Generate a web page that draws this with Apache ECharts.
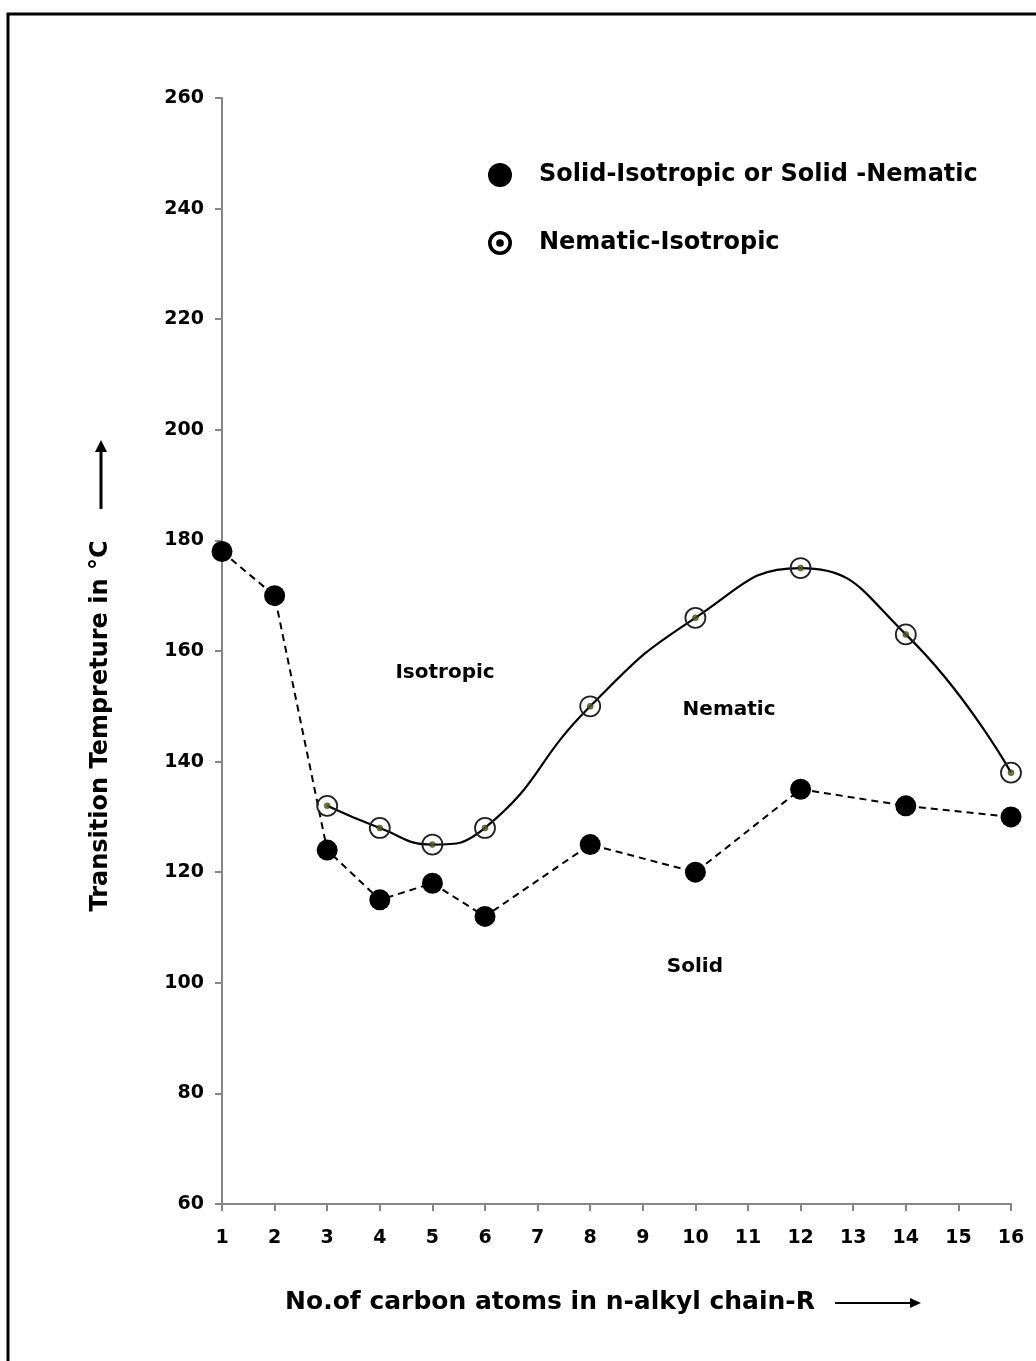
<!DOCTYPE html>
<html>
<head>
<meta charset="utf-8">
<script src="https://cdn.jsdelivr.net/npm/echarts@6/dist/echarts.min.js"></script>
<style>html,body{margin:0;padding:0;background:#fff}#c{width:1036px;height:1361px}</style>
</head>
<body>
<div id="c"></div>
<script>
var xTicks = [1,2,3,4,5,6,7,8,9,10,11,12,13,14,15,16];
var yTicks = [60,80,100,120,140,160,180,200,220,240,260];
var solidX = [1,2,3,4,5,6,8,10,12,14,16];
var solidY = [178,170,124,115,118,112,125,120,135,132,130];
var nemX = [3,4,5,6,8,10,12,14,16];
var nemY = [132,128,125,128,150,166,175,163,138];
var regionNames = ['Isotropic','Nematic','Solid'];
var regionX = [5.24,10.64,9.99];
var regionY = [156,149.3,102.9];

var solidData = solidX.map(function(x,i){return [x,solidY[i]];});
var nemData = nemX.map(function(x,i){return [x,nemY[i]];});

var FONT = '"DejaVu Sans", sans-serif';
var ringIcon = 'path://M0,-10A10,10 0 1,1 0,10A10,10 0 1,1 0,-10ZM0,-7A7,7 0 1,0 0,7A7,7 0 1,0 0,-7ZM0,-3.2A3.2,3.2 0 1,1 0,3.2A3.2,3.2 0 1,1 0,-3.2Z';

var chart = echarts.init(document.getElementById('c'));
chart.setOption({
  animation:false,
  backgroundColor:'#fff',
  grid:{left:222,right:25,top:98,bottom:157,containLabel:false},
  legend:{
    orient:'vertical',left:483,top:158,itemGap:44,itemWidth:24,itemHeight:24,
    textStyle:{fontFamily:FONT,fontWeight:'bold',fontSize:24,color:'#000',padding:[0,0,0,22]},
    data:[
      {name:'Solid-Isotropic or Solid -Nematic',icon:'circle',itemStyle:{color:'#000',borderWidth:0}},
      {name:'Nematic-Isotropic',icon:ringIcon,itemStyle:{color:'#000',borderWidth:0}}
    ]
  },
  xAxis:{
    type:'value',min:1,max:16,interval:1,
    axisLine:{lineStyle:{color:'#868686',width:2}},
    axisTick:{show:true,length:7,lineStyle:{color:'#868686',width:2}},
    axisLabel:{fontFamily:FONT,fontWeight:'bold',fontSize:19,color:'#000',margin:25},
    splitLine:{show:false}
  },
  yAxis:{
    type:'value',min:60,max:260,interval:20,
    axisLine:{show:true,lineStyle:{color:'#868686',width:2}},
    axisTick:{show:true,length:7,lineStyle:{color:'#868686',width:2}},
    axisLabel:{fontFamily:FONT,fontWeight:'bold',fontSize:19,color:'#000',margin:18},
    splitLine:{show:false}
  },
  series:[
    {
      name:'Solid-Isotropic or Solid -Nematic',type:'line',data:solidData,
      symbol:'circle',symbolSize:21,
      itemStyle:{color:'#000'},
      lineStyle:{color:'#000',width:2,type:[7,5]},
      z:3
    },
    {
      name:'Nematic-Isotropic',type:'line',data:nemData,smooth:0.5,
      symbol:'circle',symbolSize:20,
      itemStyle:{color:'rgba(255,255,255,0)',borderColor:'#222',borderWidth:1.8},
      lineStyle:{color:'#000',width:2.2},
      z:4
    },
    {
      name:'dots',type:'scatter',data:nemData,symbolSize:6,
      itemStyle:{color:'#4d5c12',borderColor:'#1a2000',borderWidth:0.5},
      z:5,silent:true
    }
  ],
  graphic:[
    {type:'rect',shape:{x:8,y:14,width:1200,height:1500},style:{fill:'none',stroke:'#000',lineWidth:3},z:-1},
    {type:'text',x:101,y:726,rotation:Math.PI/2,style:{text:'Transition Tempreture in °C',font:'bold 24px "DejaVu Sans", sans-serif',fill:'#000',textAlign:'center',textVerticalAlign:'middle'}},
    {type:'line',shape:{x1:101,y1:509,x2:101,y2:452},style:{stroke:'#000',lineWidth:3}},
    {type:'polygon',shape:{points:[[95,452],[107,452],[101,440]]},style:{fill:'#000'}},
    {type:'text',x:550,y:1302,style:{text:'No.of carbon atoms in n-alkyl chain-R',font:'bold 25px "DejaVu Sans", sans-serif',fill:'#000',textAlign:'center',textVerticalAlign:'middle'}},
    {type:'line',shape:{x1:835,y1:1303,x2:912,y2:1303},style:{stroke:'#000',lineWidth:2}},
    {type:'polygon',shape:{points:[[910,1298],[910,1308],[921,1303]]},style:{fill:'#000'}}
  ]
});
var regionGraphics = regionNames.map(function(n,i){
  var p = chart.convertToPixel({gridIndex:0},[regionX[i],regionY[i]]);
  return {type:'text',id:'reg'+i,x:p[0],y:p[1],style:{text:n,font:'bold 20px "DejaVu Sans", sans-serif',fill:'#000',textAlign:'center',textVerticalAlign:'middle'}};
});
chart.setOption({graphic:regionGraphics});
</script>
</body>
</html>
